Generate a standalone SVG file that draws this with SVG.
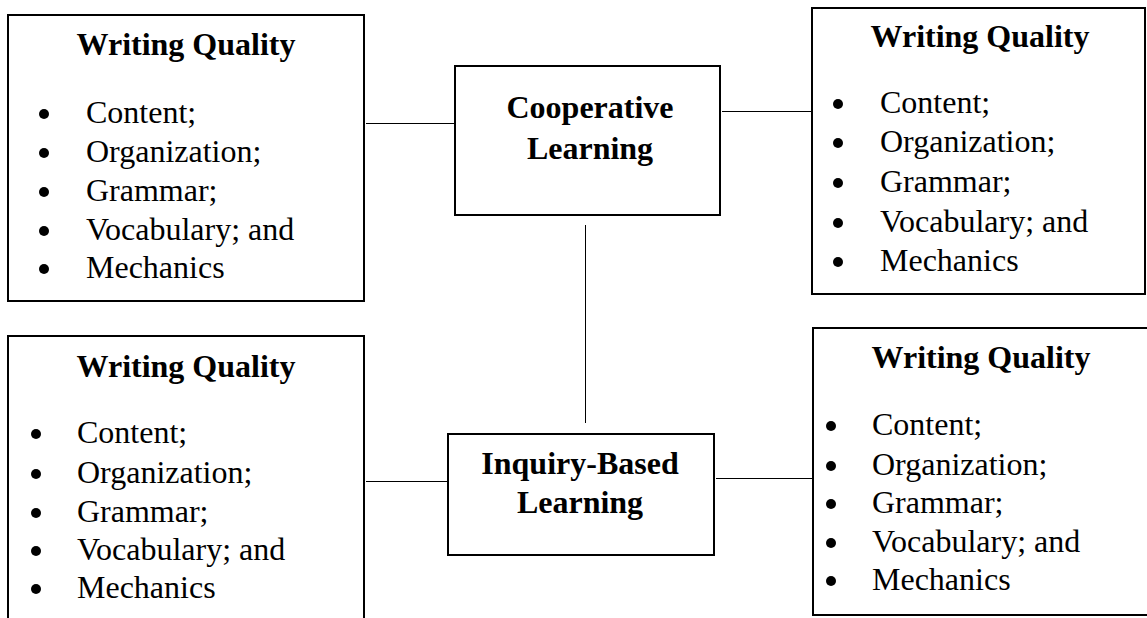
<svg xmlns="http://www.w3.org/2000/svg" width="1147" height="618" viewBox="0 0 1147 618">
<style>
.box{fill:#fff;stroke:#000;stroke-width:2}
.t{font-family:"Liberation Serif","Times New Roman",serif;font-size:32px;fill:#000}
.b{font-weight:bold}
.c{text-anchor:middle}
.conn line{stroke:#000;stroke-width:1}
</style>
<rect width="1147" height="618" fill="#fff"/>
<g id="connectors" class="conn">
<line x1="366" y1="123.5" x2="455" y2="123.5"/>
<line x1="722" y1="111.5" x2="812" y2="111.5"/>
<line x1="585.5" y1="225" x2="585.5" y2="423"/>
<line x1="366" y1="481.5" x2="448" y2="481.5"/>
<line x1="716" y1="478.5" x2="813" y2="478.5"/>
</g>
<g id="wq-top-left">
<rect class="box" x="8" y="15" width="356" height="286"/>
<text class="t b c" x="186" y="55">Writing Quality</text>
<g fill="#000"><circle cx="44" cy="114" r="5"/><circle cx="44" cy="153" r="5"/><circle cx="44" cy="192" r="5"/><circle cx="44" cy="231" r="5"/><circle cx="44" cy="269" r="5"/></g>
<text class="t" x="86" y="123">Content;</text>
<text class="t" x="86" y="162">Organization;</text>
<text class="t" x="86" y="201">Grammar;</text>
<text class="t" x="86" y="240">Vocabulary; and</text>
<text class="t" x="86" y="278">Mechanics</text>
</g>
<g id="cooperative">
<rect class="box" x="455" y="66" width="265" height="149"/>
<text class="t b c" x="590" y="118">Cooperative</text>
<text class="t b c" x="590" y="159">Learning</text>
</g>
<g id="wq-top-right">
<rect class="box" x="812" y="8" width="333" height="286"/>
<text class="t b c" x="980" y="47">Writing Quality</text>
<g fill="#000"><circle cx="838" cy="104" r="5"/><circle cx="838" cy="143" r="5"/><circle cx="838" cy="183" r="5"/><circle cx="838" cy="223" r="5"/><circle cx="838" cy="262" r="5"/></g>
<text class="t" x="880" y="113">Content;</text>
<text class="t" x="880" y="152">Organization;</text>
<text class="t" x="880" y="192">Grammar;</text>
<text class="t" x="880" y="232">Vocabulary; and</text>
<text class="t" x="880" y="271">Mechanics</text>
</g>
<g id="wq-bottom-left">
<rect class="box" x="8" y="336" width="356" height="300"/>
<text class="t b c" x="186" y="377">Writing Quality</text>
<g fill="#000"><circle cx="36" cy="434" r="5"/><circle cx="36" cy="474" r="5"/><circle cx="36" cy="513" r="5"/><circle cx="36" cy="551" r="5"/><circle cx="36" cy="589" r="5"/></g>
<text class="t" x="77" y="443">Content;</text>
<text class="t" x="77" y="483">Organization;</text>
<text class="t" x="77" y="522">Grammar;</text>
<text class="t" x="77" y="560">Vocabulary; and</text>
<text class="t" x="77" y="598">Mechanics</text>
</g>
<g id="inquiry">
<rect class="box" x="448" y="434" width="266" height="121"/>
<text class="t b c" x="580" y="474">Inquiry-Based</text>
<text class="t b c" x="580" y="513">Learning</text>
</g>
<g id="wq-bottom-right">
<rect class="box" x="813" y="328" width="340" height="287"/>
<text class="t b c" x="981" y="368">Writing Quality</text>
<g fill="#000"><circle cx="831" cy="426" r="5"/><circle cx="831" cy="466" r="5"/><circle cx="831" cy="504" r="5"/><circle cx="831" cy="543" r="5"/><circle cx="831" cy="581" r="5"/></g>
<text class="t" x="872" y="435">Content;</text>
<text class="t" x="872" y="475">Organization;</text>
<text class="t" x="872" y="513">Grammar;</text>
<text class="t" x="872" y="552">Vocabulary; and</text>
<text class="t" x="872" y="590">Mechanics</text>
</g>
</svg>
